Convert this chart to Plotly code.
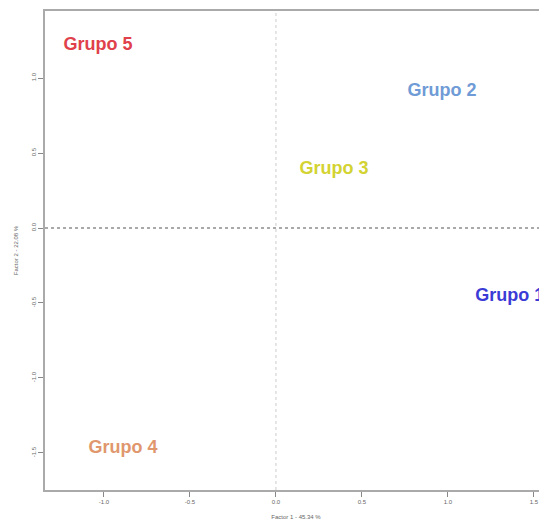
import plotly.graph_objects as go

grupos = ["Grupo 1", "Grupo 2", "Grupo 3", "Grupo 4", "Grupo 5"]
factor1 = [1.36, 0.965, 0.337, -0.89, -1.035]
factor2 = [-0.46, 0.907, 0.387, -1.467, 1.22]
colores = ["#3b3bd6", "#6f9bd6", "#d3d332", "#e0976d", "#e0414a"]
x_ticks = [-1.0, -0.5, 0.0, 0.5, 1.0, 1.5]
y_ticks = [-1.5, -1.0, -0.5, 0.0, 0.5, 1.0]
x_title = "Factor 1 - 45.34 %"
y_title = "Factor 2 - 22.08 %"

fig = go.Figure()
fig.add_trace(go.Scatter(
    x=factor1, y=factor2, mode="text", text=grupos,
    textposition="middle center", cliponaxis=False,
    textfont=dict(family="Liberation Sans, Arial, sans-serif", size=18, color=colores, weight="bold"),
    hoverinfo="skip", showlegend=False,
))

fig.add_hline(y=0, line=dict(color="#555555", width=1, dash="dot"))
fig.add_vline(x=0, line=dict(color="#cccccc", width=1, dash="dot"))

axis_common = dict(
    showgrid=False, zeroline=False, showline=True, linecolor="#aaaaaa", linewidth=1.5,
    ticks="outside", ticklen=5, tickcolor="#888888", tickwidth=1,
    tickfont=dict(family="Liberation Sans, Arial", size=6, color="#666666"),
    title_font=dict(family="Liberation Sans, Arial", size=6, color="#666666"),
)

fig.update_layout(
    width=539, height=513,
    margin=dict(l=37, r=0, t=3, b=31),
    plot_bgcolor="white", paper_bgcolor="white",
    xaxis=dict(range=[-1.343, 1.576], tickvals=x_ticks, ticktext=[f"{v:.1f}" for v in x_ticks],
               mirror=True, title=dict(text=x_title, standoff=11), **axis_common),
    yaxis=dict(range=[-1.747, 1.447], tickvals=y_ticks, ticktext=[f"{v:.1f}" for v in y_ticks],
               tickangle=-90, title=dict(text=y_title, standoff=12), **axis_common),
)

fig.write_html("out.html")
